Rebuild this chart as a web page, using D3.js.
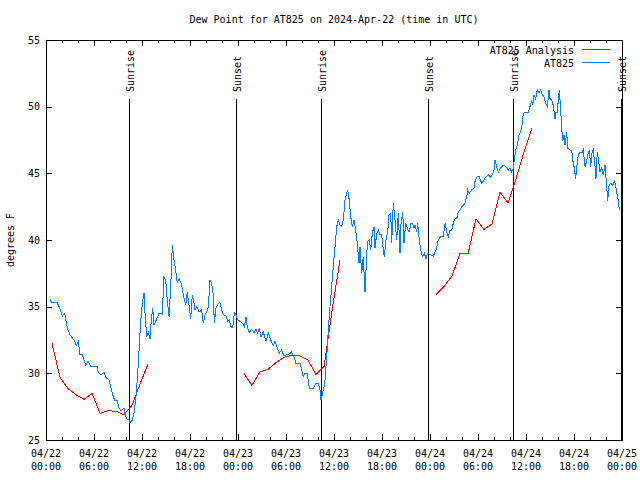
<!DOCTYPE html>
<html><head><meta charset="utf-8">
<script src="https://cdn.jsdelivr.net/npm/d3@7"></script>
<style>
body{margin:0;background:#fff;}
svg{display:block;}
text{font-family:"DejaVu Sans Mono","Liberation Mono",monospace;font-size:10px;fill:#000;}
</style></head><body>
<svg id="chart" width="640" height="480"></svg>
<script>
// ---------- DATA (hours since 2024-04-22 00:00 UTC, dew point in °F) ----------
const chartTitle = "Dew Point for AT825 on 2024-Apr-22 (time in UTC)";
const yLabel = "degrees F";
const yTickValues = [25, 30, 35, 40, 45, 50, 55];
const seriesNames = ["AT825 Analysis", "AT825"];

const analysisDay1 = [[0.75,32.25],[1.75,29.7],[2.75,28.85],[3.75,28.4],[4.75,28.05],[5.75,28.5],[6.75,27.0],[7.75,27.2],[8.75,27.15],[9.75,26.9],[10.75,27.6],[11.75,29.2],[12.75,30.7]];
const analysisDay2 = [[24.75,30.0],[25.75,29.1],[26.75,30.1],[27.75,30.3],[28.75,30.8],[29.75,31.2],[30.75,31.35],[31.75,31.3],[32.75,31.0],[33.75,29.9],[34.75,30.5],[35.75,34.7],[36.75,38.5]];
const analysisDay3 = [[48.75,35.9],[49.75,36.5],[50.75,37.3],[51.75,39.0],[52.75,38.95],[53.75,41.6],[54.75,40.8],[55.75,41.2],[56.75,43.6],[57.75,42.8],[58.75,44.6],[59.75,46.6],[60.75,48.4]];

const stationObs = [[0.5,35.55],[0.66,35.35],[1.34,35.35],[1.63,35.0],[2.04,34.3],[2.34,34.5],[2.46,34.1],[2.66,33.4],[3.0,32.9],[3.5,32.5],[3.79,32.1],[4.04,32.4],[4.25,31.4],[4.54,31.4],[4.75,31.0],[4.96,30.6],[5.25,30.95],[5.59,30.5],[6.41,30.5],[6.54,30.05],[6.91,29.9],[7.25,30.1],[7.46,29.7],[7.88,29.5],[8.09,29.0],[8.29,28.5],[8.59,27.95],[8.91,27.95],[9.13,27.4],[9.41,27.2],[9.75,27.4],[9.88,26.9],[10.09,26.6],[10.38,26.5],[10.5,26.3],[10.79,26.5],[11.0,27.0],[11.21,28.0],[11.41,29.5],[11.63,31.75],[11.84,33.9],[12.04,35.25],[12.25,36.05],[12.38,34.5],[12.59,32.75],[12.79,33.1],[13.0,32.55],[13.16,34.0],[13.34,34.9],[13.5,33.6],[13.71,33.9],[14.13,34.5],[14.54,34.45],[14.75,37.25],[14.96,37.0],[15.16,35.5],[15.38,34.25],[15.59,36.5],[15.79,39.6],[16.0,38.5],[16.21,37.75],[16.41,36.75],[16.63,37.1],[16.91,36.75],[17.13,36.0],[17.46,35.1],[17.66,36.1],[17.88,35.1],[18.09,34.1],[18.29,35.9],[18.5,35.25],[18.63,34.75],[18.84,35.0],[19.16,34.6],[19.46,34.75],[19.66,33.75],[19.88,34.4],[20.09,34.6],[20.29,35.0],[20.5,37.0],[20.71,36.75],[20.91,35.9],[21.04,33.8],[21.25,34.9],[21.54,35.25],[21.75,35.3],[21.96,34.75],[22.16,34.4],[22.5,34.3],[22.71,33.9],[22.91,34.0],[23.13,33.5],[23.34,33.4],[23.54,34.55],[23.75,34.4],[23.96,34.0],[24.25,33.9],[24.59,33.75],[24.79,33.5],[25.0,34.25],[25.16,33.5],[25.41,33.05],[25.71,33.3],[26.0,33.05],[26.25,33.3],[26.46,33.0],[26.66,33.4],[26.88,32.75],[27.16,33.1],[27.5,32.4],[27.79,33.0],[28.09,32.5],[28.41,32.1],[28.63,32.4],[28.91,31.9],[29.16,31.5],[29.46,31.75],[29.75,31.3],[30.09,31.4],[30.41,31.45],[30.71,31.6],[31.0,31.25],[31.25,30.7],[31.75,30.75],[31.96,30.25],[32.16,29.75],[32.38,30.0],[32.66,30.0],[32.91,28.9],[33.41,28.9],[33.75,29.25],[34.04,29.25],[34.25,28.75],[34.38,28.0],[34.54,28.4],[34.75,29.0],[34.88,29.5],[35.09,31.25],[35.29,33.25],[35.5,35.0],[35.71,36.5],[35.91,38.0],[36.13,39.5],[36.34,41.0],[36.54,41.5],[36.75,41.1],[36.96,41.0],[37.16,41.5],[37.38,43.0],[37.59,43.5],[37.71,43.75],[37.88,43.1],[38.09,41.75],[38.29,41.0],[38.5,41.5],[38.71,40.75],[38.91,39.75],[39.13,38.25],[39.25,39.5],[39.46,37.5],[39.66,38.75],[39.88,36.1],[40.09,39.0],[40.21,39.9],[40.41,40.0],[40.59,39.25],[40.79,40.5],[41.0,41.0],[41.13,39.4],[41.34,40.5],[41.54,40.75],[41.75,40.4],[41.96,40.4],[42.16,39.25],[42.29,38.75],[42.5,40.0],[42.71,40.6],[42.88,41.9],[43.09,42.0],[43.21,39.75],[43.41,42.75],[43.63,41.5],[43.84,40.0],[44.04,42.0],[44.25,39.0],[44.38,41.25],[44.59,42.1],[44.75,39.75],[44.96,41.25],[45.16,40.9],[45.38,40.6],[45.63,41.25],[45.79,41.25],[46.0,40.9],[46.13,41.1],[46.34,40.6],[46.46,41.25],[46.66,40.0],[46.84,39.25],[47.04,38.75],[47.29,39.0],[47.5,38.6],[47.71,39.0],[48.0,38.9],[48.41,38.8],[48.75,39.25],[49.04,40.0],[49.34,40.25],[49.66,40.25],[49.88,41.25],[50.09,40.6],[50.29,40.25],[50.5,40.75],[50.71,40.75],[50.91,41.25],[51.13,41.6],[51.34,41.6],[51.54,42.1],[51.75,42.25],[51.96,42.5],[52.16,42.6],[52.38,42.75],[52.59,43.25],[52.71,43.75],[52.91,43.5],[53.21,43.75],[53.5,43.9],[53.63,44.4],[53.91,44.75],[54.16,44.75],[54.46,44.25],[54.75,44.5],[55.0,44.75],[55.29,44.9],[55.59,44.7],[55.79,44.9],[56.0,45.25],[56.13,46.0],[56.34,45.5],[56.54,45.1],[56.84,45.4],[57.16,45.6],[57.5,45.5],[57.79,45.25],[58.0,45.4],[58.21,45.1],[58.41,45.4],[58.54,46.0],[58.71,46.75],[58.91,47.1],[59.13,47.9],[59.34,48.1],[59.54,48.75],[59.66,49.5],[59.88,49.6],[60.29,49.6],[60.5,50.0],[60.71,50.5],[60.84,50.1],[61.0,50.9],[61.21,50.6],[61.41,51.25],[61.63,51.0],[61.84,51.25],[62.04,50.9],[62.25,50.75],[62.46,50.25],[62.66,50.0],[62.88,51.25],[63.0,50.6],[63.21,50.5],[63.41,50.1],[63.63,49.1],[63.75,49.6],[63.91,49.6],[64.04,50.5],[64.16,51.25],[64.34,49.75],[64.46,48.4],[64.59,47.4],[64.75,47.9],[64.88,47.1],[65.09,48.1],[65.21,46.9],[65.5,46.75],[65.71,46.75],[65.84,46.0],[66.04,45.4],[66.21,44.6],[66.34,45.4],[66.54,46.4],[66.75,46.6],[67.04,46.6],[67.16,46.75],[67.38,45.5],[67.59,45.9],[67.71,46.4],[67.91,46.75],[68.09,45.5],[68.21,46.5],[68.41,46.75],[68.63,45.5],[68.75,44.6],[68.91,46.6],[69.09,45.9],[69.25,45.1],[69.46,45.4],[69.66,44.9],[69.88,45.6],[70.09,44.0],[70.21,42.9],[70.38,44.1],[70.59,44.25],[70.84,44.1],[71.04,44.4],[71.21,44.1],[71.34,43.5],[71.46,43.25],[71.59,42.6],[71.71,42.25]];

const sunEvents = [["Sunrise",10.41],["Sunset",23.80],["Sunrise",34.41],["Sunset",47.79],["Sunrise",58.41],["Sunset",71.86]];

// ---------- DRAWING ----------
const baseTime = Date.UTC(2024, 3, 22, 0, 0);
const toDate = h => new Date(baseTime + h * 3600000);
const svg = d3.select("#chart");
svg.append("rect").attr("width", 640).attr("height", 480).attr("fill", "#fff");

const L = 46, R = 622, T = 40, B = 440;
const x = d3.scaleUtc().domain([toDate(0), toDate(72)]).range([L, R]);
const y = d3.scaleLinear().domain([25, 55]).range([B, T]);

const g = svg.append("g").attr("shape-rendering", "crispEdges");

// minor & major ticks (gnuplot style, inward, mirrored)
const minorTicks = x.ticks(d3.utcHour.every(2));
const majorTicks = x.ticks(d3.utcHour.every(6));
function tickAxis(axis, tr, size, vals) {
  const a = g.append("g").attr("transform", tr)
    .call(axis.tickValues(vals).tickSize(size).tickFormat(""));
  a.select(".domain").remove();
  a.selectAll("line").attr("stroke", "#000");
  return a;
}
tickAxis(d3.axisBottom(x), `translate(0,${B})`, -3, minorTicks);
tickAxis(d3.axisTop(x), `translate(0,${T})`, -3, minorTicks);
tickAxis(d3.axisBottom(x), `translate(0,${B})`, -6, majorTicks);
tickAxis(d3.axisTop(x), `translate(0,${T})`, -6, majorTicks);
tickAxis(d3.axisRight(y), `translate(${R},0)`, -6, yTickValues);

const yAx = g.append("g").attr("transform", `translate(${L},0)`)
  .call(d3.axisLeft(y).tickValues(yTickValues).tickSize(-6).tickPadding(6).tickFormat(d3.format("d")));
yAx.select(".domain").remove();
yAx.selectAll("line").attr("stroke", "#000");
yAx.selectAll("text").attr("font-family", null).attr("font-size", null).attr("fill", "#000");

// x tick labels (two lines)
const fDay = d3.utcFormat("%m/%d"), fHr = d3.utcFormat("%H:%M");
const xl = svg.append("g");
majorTicks.forEach(t => {
  const tx = xl.append("text").attr("text-anchor", "middle");
  tx.append("tspan").attr("x", x(t)).attr("y", B + 17).text(fDay(t));
  tx.append("tspan").attr("x", x(t)).attr("y", B + 30).text(fHr(t));
});

// border
g.append("rect").attr("x", L).attr("y", T).attr("width", R - L).attr("height", B - T)
  .attr("fill", "none").attr("stroke", "#000");

// sunrise / sunset markers
sunEvents.forEach(([name, h]) => {
  const xp = Math.round(x(toDate(h)));
  g.append("line").attr("x1", xp).attr("x2", xp).attr("y1", T + 59).attr("y2", B)
    .attr("stroke", "#000").attr("stroke-width", 1);
  svg.append("text").attr("transform", `translate(${xp + 4.5},${T + 52}) rotate(-90)`)
    .attr("text-anchor", "start").text(name);
});

// data lines
const line = d3.line().x(d => x(toDate(d[0]))).y(d => y(d[1]));
const dl = svg.append("g").attr("shape-rendering", "crispEdges");
[analysisDay1, analysisDay2, analysisDay3].forEach(seg => {
  dl.append("path").attr("d", line(seg)).attr("fill", "none").attr("stroke", "#ff0000").attr("stroke-width", 1);
});
dl.append("path").attr("d", line(stationObs)).attr("fill", "none").attr("stroke", "#0080ff").attr("stroke-width", 1);

// title & y label
svg.append("text").attr("x", (L + R) / 2).attr("y", 23).attr("text-anchor", "middle").text(chartTitle);
svg.append("text").attr("transform", `translate(14,${(T + B) / 2}) rotate(-90)`).attr("text-anchor", "middle").text(yLabel);

// legend
const legColors = ["#ff0000", "#0080ff"];
seriesNames.forEach((n, i) => {
  const yy = 50 + i * 13;
  svg.append("text").attr("x", 574).attr("y", yy + 4).attr("text-anchor", "end").text(n);
  svg.append("line").attr("x1", 582).attr("x2", 610).attr("y1", yy - 0.5).attr("y2", yy - 0.5)
    .attr("stroke", legColors[i]).attr("shape-rendering", "crispEdges");
});
</script></body></html>
